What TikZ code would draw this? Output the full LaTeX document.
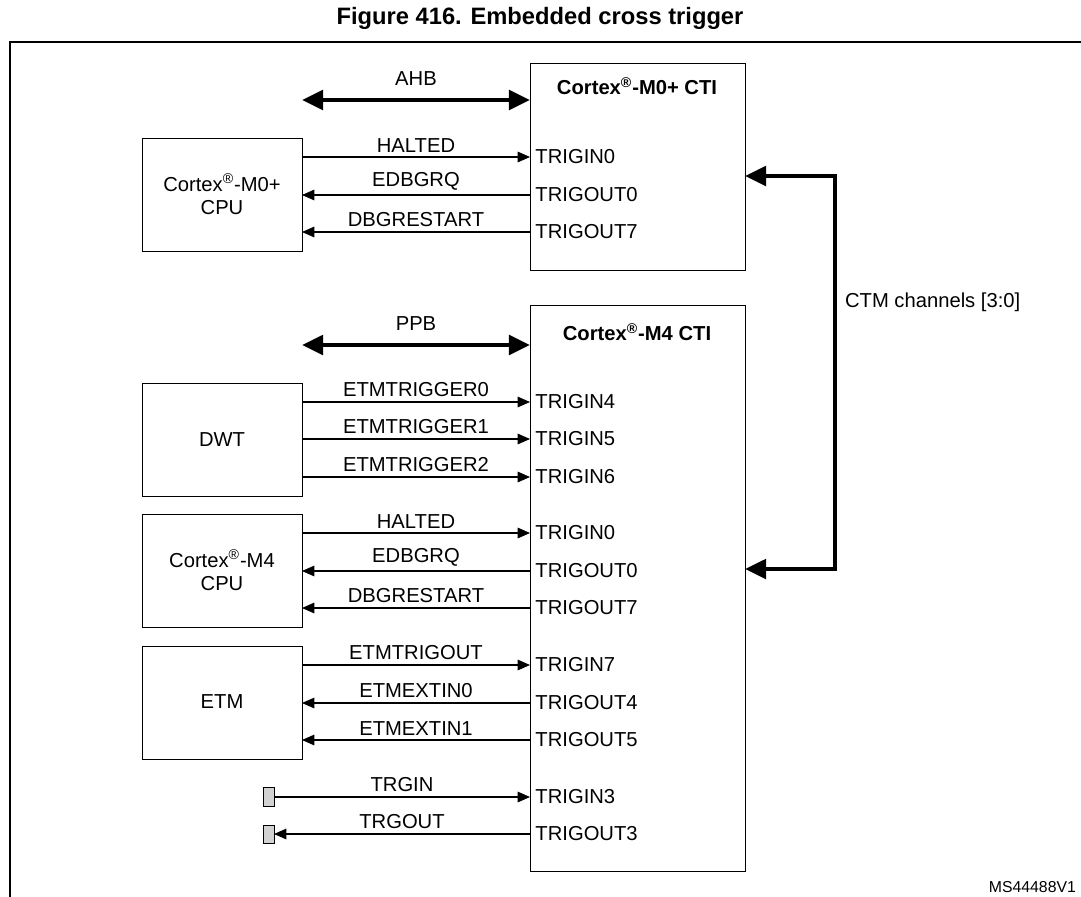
\documentclass[tikz,border=0pt]{standalone}
\usepackage{fontspec}
\setmainfont{Liberation Sans}
\usetikzlibrary{arrows.meta}
\begin{document}
\begin{tikzpicture}[x=0.02cm,y=-0.02cm, every node/.style={font=\fontsize{11.5}{13}\selectfont, inner sep=1pt},
  blk/.style={draw, line width=0.5pt},
  sig/.style={line width=0.6pt, -{Triangle[length=7pt,width=6pt]}},
  bus/.style={line width=2.4pt, {Triangle[length=12pt,width=11pt]}-{Triangle[length=12pt,width=11pt]}},
  pin/.style={anchor=west}]
  \useasboundingbox (0,0) rectangle (1081,896);
  % Frame and title
  \draw[line width=0.8pt] (10,910) -- (10,42) -- (1090,42);
  \node[font=\fontsize{13.5}{15}\bfseries] (title) at (540,18) {Figure 416. Embedded cross trigger};

  % CTI blocks
  \draw[blk] (530,63) rectangle (745,270);
  \node[font=\fontsize{11.5}{13}\bfseries] (m0cti) at (637,86) {Cortex\textsuperscript{®}-M0+ CTI};
  \draw[blk] (530,305) rectangle (745,871);
  \node[font=\fontsize{11.5}{13}\bfseries] (m4cti) at (637,332) {Cortex\textsuperscript{®}-M4 CTI};

  % Source blocks
  \draw[blk] (142,138) rectangle (302,251);
  \node[align=center] (m0cpu) at (222,194) {Cortex\textsuperscript{®}-M0+\\CPU};
  \draw[blk] (142,383) rectangle (302,496);
  \node (dwt) at (222,440) {DWT};
  \draw[blk] (142,514) rectangle (302,627);
  \node[align=center] (m4cpu) at (222,570) {Cortex\textsuperscript{®}-M4\\CPU};
  \draw[blk] (142,646) rectangle (302,759);
  \node (etm) at (222,702) {ETM};
  \draw[fill=gray!35] (263,787) rectangle (274,806);
  \draw[fill=gray!35] (263,825) rectangle (274,843);

  % Pins
  \node[pin] (p1) at (530,157) {\,TRIGIN0};
  \node[pin] (p2) at (530,195) {\,TRIGOUT0};
  \node[pin] (p3) at (530,232) {\,TRIGOUT7};
  \node[pin] (q1) at (530,402) {\,TRIGIN4};
  \node[pin] (q2) at (530,439) {\,TRIGIN5};
  \node[pin] (q3) at (530,477) {\,TRIGIN6};
  \node[pin] (q4) at (530,533) {\,TRIGIN0};
  \node[pin] (q5) at (530,571) {\,TRIGOUT0};
  \node[pin] (q6) at (530,608) {\,TRIGOUT7};
  \node[pin] (q7) at (530,665) {\,TRIGIN7};
  \node[pin] (q8) at (530,703) {\,TRIGOUT4};
  \node[pin] (q9) at (530,740) {\,TRIGOUT5};
  \node[pin] (q10) at (530,797) {\,TRIGIN3};
  \node[pin] (q11) at (530,834) {\,TRIGOUT3};

  % Buses
  \coordinate (ahb) at (302,100);
  \coordinate (ppb) at (302,345);
  \draw[bus] (ahb) -- node[above=6pt] {AHB} (530,100);
  \draw[bus] (ppb) -- node[above=6pt] {PPB} (530,345);

  % Signals
  \foreach \p/\t/\d/\s in {p1/HALTED/1/302, p2/EDBGRQ/0/302, p3/DBGRESTART/0/302,
      q1/ETMTRIGGER0/1/302, q2/ETMTRIGGER1/1/302, q3/ETMTRIGGER2/1/302,
      q4/HALTED/1/302, q5/EDBGRQ/0/302, q6/DBGRESTART/0/302,
      q7/ETMTRIGOUT/1/302, q8/ETMEXTIN0/0/302, q9/ETMEXTIN1/0/302,
      q10/TRGIN/1/274, q11/TRGOUT/0/274} {
    \ifnum\d=1
      \draw[sig] (\s,0 |- \p.west) -- node[above=1.5pt] {\t} (\p.west);
    \else
      \draw[sig] (\p.west) -- node[above=1.5pt] {\t} (\s,0 |- \p.west);
    \fi
  }

  % CTM channels
  \coordinate (ctma) at (745,176);
  \coordinate (ctmb) at (745,569);
  \draw[bus] (ctma) -- (835,176) -- (835,569) -- (ctmb);
  \node[anchor=west] (ctm) at (843,302) {CTM channels [3:0]};

  \node[anchor=east, font=\fontsize{9}{10}\selectfont] (ref) at (1078,887) {MS44488V1};
\end{tikzpicture}
\end{document}
